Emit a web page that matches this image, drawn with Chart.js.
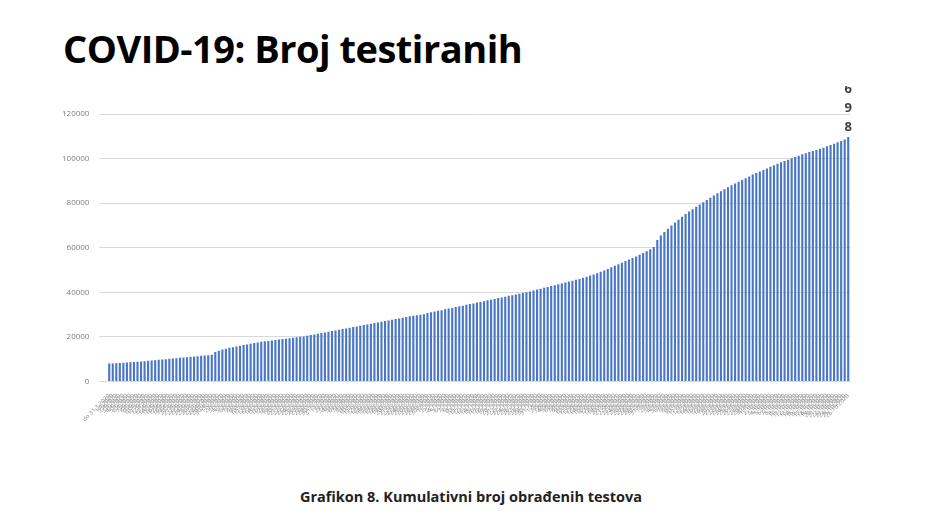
<!DOCTYPE html>
<html>
<head>
<meta charset="utf-8">
<script src="https://cdn.jsdelivr.net/npm/chart.js@4"></script>
<style>
  body { margin: 0; width: 938px; height: 522px; background: #fff; font-family: 'Open Sans', sans-serif; position: relative; overflow: hidden; }
  h1 { position: absolute; left: 63px; top: 22px; margin: 0; font-size: 38px; font-weight: bold; color: #000; font-family: 'Open Sans', sans-serif; letter-spacing: -0.5px; }
  .caption { position: absolute; left: 0; width: 942px; top: 487px; text-align: center; font-size: 14.5px; font-weight: bold; color: #222; }
  #wrap { position: absolute; left: 52px; top: 86px; width: 828px; height: 340px; }
</style>
</head>
<body>
<h1>COVID-19: Broj testiranih</h1>
<div id="wrap"><canvas id="chart"></canvas></div>
<div class="caption">Grafikon 8. Kumulativni broj obrađenih testova</div>
<script>
// Cumulative tests per day
const testValues = [
  8000,8100,8200,8300,8400,8500,8600,8700,8800,8950,9100,9250,9400,9550,9700,9850,10000,10150,10300,10450,10600,10750,10900,11050,11200,11350,11500,11650,11800,12000,
  13200,13800,14300,14700,15100,15400,15700,16000,16300,16600,16900,17200,17500,17800,18000,18200,18400,18600,18800,19000,19200,19400,19600,19800,20000,20200,
  20500,20800,21100,21400,21700,22000,22300,22600,22900,23200,23500,23800,24100,24400,24700,25000,25300,25600,25900,26200,26500,26800,27100,27400,27700,28000,28300,28600,28900,29200,29500,29700,29900,30100,
  30700,31000,31400,31700,32000,32400,32700,33000,33400,33700,34000,34400,34700,35000,35400,35700,36000,36400,36700,37000,37400,37700,38000,38400,38700,39000,39400,39700,
  40000,40400,40800,41200,41600,42000,42400,42800,43200,43600,44000,44400,44800,45200,45600,46000,46500,47000,47500,48000,48600,49200,49800,
  50500,51200,51900,52600,53300,54000,54700,55400,56100,56800,57600,58400,59300,60300,
  63500,65500,67000,68500,70000,71300,72600,73900,75100,76200,77300,78400,79400,80400,81400,82400,83400,84400,
  85300,86200,87100,88000,88800,89600,90400,91200,92000,92800,93500,94200,94900,95600,96300,97000,97700,98300,98900,99500,100100,100700,101300,101900,102400,102900,
  103400,103900,104400,104900,105500,106100,106700,107300,107900,108600,109698
];

const yTicks = [0, 20000, 40000, 60000, 80000, 100000, 120000];

// date labels: first is "do 31.3.2020", then daily
const dayLabels = ['do 31.3.2020'];
for (let i = 1; i < testValues.length; i++) {
  const d = new Date(2020, 2, 31 + i);
  dayLabels.push(d.getDate() + '.' + (d.getMonth() + 1) + '.' + d.getFullYear());
}

// vertical stacked label on the last bar (Excel-style wrapped number)
const lastLabel = {
  id: 'lastLabel',
  afterDatasetsDraw(chart) {
    const meta = chart.getDatasetMeta(0);
    const bar = meta.data[meta.data.length - 1];
    const ctx = chart.ctx;
    const chars = String(testValues[testValues.length - 1]).split('');
    ctx.save();
    ctx.font = 'bold 13px "Open Sans"';
    ctx.fillStyle = '#404040';
    ctx.textAlign = 'center';
    let y = bar.y - 6;
    for (let i = chars.length - 1; i >= 0; i--) {
      ctx.fillText(chars[i], bar.x, y);
      y -= 19;
    }
    ctx.restore();
  }
};

new Chart(document.getElementById('chart'), {
  type: 'bar',
  data: {
    labels: dayLabels,
    datasets: [{
      data: testValues,
      backgroundColor: '#4a76c6',
      barPercentage: 0.6,
      categoryPercentage: 1
    }]
  },
  options: {
    responsive: true,
    maintainAspectRatio: false,
    animation: false,
    layout: { padding: { top: 28, right: 30 } },
    plugins: { legend: { display: false }, tooltip: { enabled: false } },
    scales: {
      x: {
        grid: { display: false },
        border: { color: '#d9d9d9' },
        ticks: {
          autoSkip: false,
          maxRotation: 45,
          minRotation: 45,
          color: '#8c8c8c',
          font: { family: 'Open Sans', size: 6 }
        }
      },
      y: {
        min: 0,
        max: 120000,
        afterBuildTicks: axis => { axis.ticks = yTicks.map(v => ({ value: v })); },
        grid: { color: '#d9d9d9' },
        border: { display: false },
        ticks: {
          color: '#7f7f7f',
          padding: 10,
          font: { family: 'Open Sans', size: 8 },
          callback: v => String(v)
        }
      }
    }
  },
  plugins: [lastLabel]
});
</script>
</body>
</html>
